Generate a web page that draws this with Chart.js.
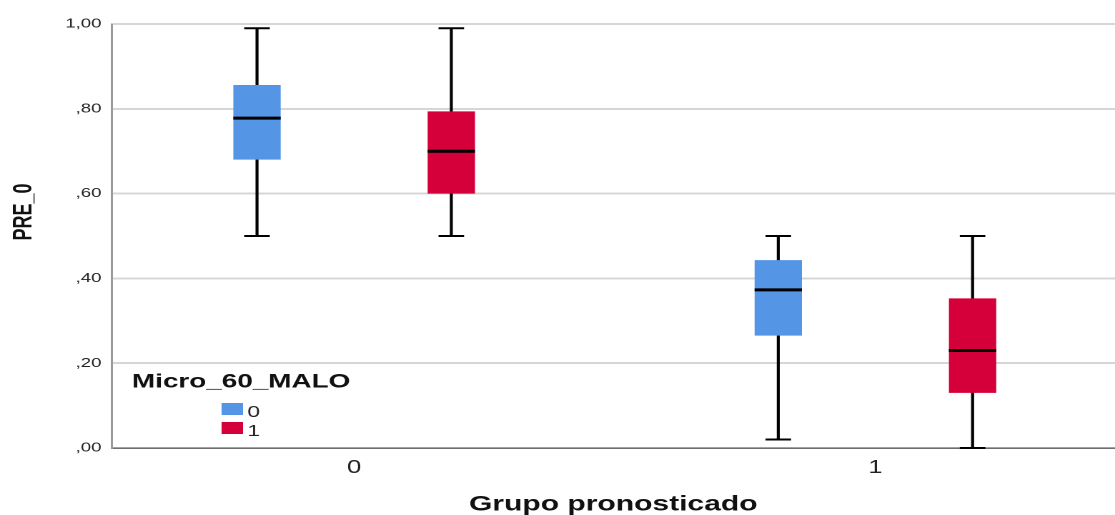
<!DOCTYPE html>
<html lang="es">
<head>
  <meta charset="UTF-8">
  <title>PRE_0 por Grupo pronosticado</title>
  <style>
    body { margin: 0; padding: 0; background: #fff; overflow: hidden; }
    /* SPSS export is stretched horizontally, so the chart is drawn narrow and widened */
    #wrap { width: 780px; height: 515px; transform: scaleX(1.42949); transform-origin: 0 0; }
  </style>
</head>
<body>
  <div id="wrap"><canvas id="boxChart" width="780" height="515"></canvas></div>

  <script src="https://cdn.jsdelivr.net/npm/chart.js"></script>
  <script>
    // categories on the x axis (Grupo pronosticado)
    const categories = ['0', '1'];
    const xValues = [0, 1];
    // legend groups (Micro_60_MALO)
    const groups = ['0', '1'];
    const groupColors = ['#5595e5', '#d5003a'];

    // box plot values, one array per statistic
    const minG0 = [0.50, 0.02];
    const q1G0 = [0.68, 0.265];
    const medG0 = [0.778, 0.373];
    const q3G0 = [0.856, 0.443];
    const maxG0 = [0.99, 0.50];

    const minG1 = [0.50, 0.00];
    const q1G1 = [0.60, 0.13];
    const medG1 = [0.70, 0.23];
    const q3G1 = [0.794, 0.353];
    const maxG1 = [0.99, 0.50];

    const yTickLabels = [',00', ',20', ',40', ',60', ',80', '1,00'];

    const stats = [
      { min: minG0, q1: q1G0, med: medG0, q3: q3G0, max: maxG0 },
      { min: minG1, q1: q1G1, med: medG1, q3: q3G1, max: maxG1 }
    ];

    const FONT = "'Liberation Sans', Arial, sans-serif";

    function boxData(s) {
      return xValues.map((x, i) => ({ x: x, y: [s.q1[i], s.q3[i]] }));
    }

    // whiskers behind the boxes, medians on top
    const boxPlotPlugin = {
      id: 'boxPlot',
      beforeDatasetsDraw(chart) {
        const ctx = chart.ctx;
        const y = chart.scales.y;
        ctx.save();
        ctx.strokeStyle = '#000';
        stats.forEach((s, d) => {
          const meta = chart.getDatasetMeta(d);
          meta.data.forEach((bar, i) => {
            const cap = bar.width * 0.27;
            const yMin = y.getPixelForValue(s.min[i]);
            const yMax = y.getPixelForValue(s.max[i]);
            ctx.lineWidth = 2.1;
            ctx.beginPath();
            ctx.moveTo(bar.x, yMax);
            ctx.lineTo(bar.x, yMin);
            ctx.stroke();
            ctx.lineWidth = 2;
            ctx.beginPath();
            ctx.moveTo(bar.x - cap, yMax);
            ctx.lineTo(bar.x + cap, yMax);
            ctx.moveTo(bar.x - cap, yMin);
            ctx.lineTo(bar.x + cap, yMin);
            ctx.stroke();
          });
        });
        ctx.restore();
      },
      afterDatasetsDraw(chart) {
        const ctx = chart.ctx;
        const y = chart.scales.y;
        ctx.save();
        ctx.strokeStyle = '#000';
        ctx.lineWidth = 3;
        stats.forEach((s, d) => {
          const meta = chart.getDatasetMeta(d);
          meta.data.forEach((bar, i) => {
            const ym = y.getPixelForValue(s.med[i]);
            ctx.beginPath();
            ctx.moveTo(bar.x - bar.width / 2, ym);
            ctx.lineTo(bar.x + bar.width / 2, ym);
            ctx.stroke();
          });
        });
        ctx.restore();
      },
      afterDraw(chart) {
        const ctx = chart.ctx;
        ctx.save();
        // y axis title
        ctx.translate(17, 212);
        ctx.rotate(-Math.PI / 2);
        ctx.fillStyle = '#111';
        ctx.font = 'bold 18px ' + FONT;
        ctx.textAlign = 'center';
        ctx.textBaseline = 'middle';
        ctx.fillText('PRE_0', 0, 0);
        ctx.restore();

        // legend
        ctx.save();
        ctx.fillStyle = '#111';
        ctx.font = 'bold 19.5px ' + FONT;
        ctx.textAlign = 'left';
        ctx.textBaseline = 'alphabetic';
        ctx.fillText('Micro_60_MALO', 92.3, 387.5);
        ctx.font = '16px ' + FONT;
        groups.forEach((g, i) => {
          const top = 403 + i * 19;
          ctx.fillStyle = groupColors[i];
          ctx.fillRect(155, top, 15, 12);
          ctx.fillStyle = '#222';
          ctx.fillText(g, 173, top + 14);
        });
        ctx.restore();
      }
    };

    new Chart(document.getElementById('boxChart'), {
      type: 'bar',
      data: {
        datasets: groups.map((g, d) => ({
          label: g,
          data: boxData(stats[d]),
          backgroundColor: groupColors[d],
          borderWidth: 0,
          categoryPercentage: 0.7455,
          barPercentage: 0.2437
        }))
      },
      options: {
        responsive: false,
        animation: false,
        devicePixelRatio: 2,
        layout: { padding: { top: 24, right: 0, bottom: 0, left: 0 } },
        plugins: {
          legend: { display: false },
          tooltip: { enabled: false }
        },
        scales: {
          x: {
            type: 'linear',
            min: -0.4655,
            max: 1.4596,
            offset: false,
            afterBuildTicks: (axis) => { axis.ticks = xValues.map(v => ({ value: v })); },
            afterFit: (axis) => { axis.height = 67; },
            grid: { display: false, drawTicks: false },
            border: { display: true, color: '#6e6e6e', width: 1.5 },
            ticks: {
              padding: 9,
              color: '#222',
              font: { family: FONT, size: 18 },
              maxRotation: 0,
              autoSkip: false,
              callback: (v) => categories[xValues.indexOf(v)] ?? ''
            },
            title: {
              display: true,
              text: 'Grupo pronosticado',
              color: '#111',
              font: { family: FONT, size: 21, weight: 'bold', lineHeight: 1 },
              padding: { top: 0, bottom: 0 }
            }
          },
          y: {
            min: 0,
            max: 1,
            afterFit: (axis) => { axis.width = 78; },
            grid: { color: '#d6d6d6', lineWidth: 2, drawTicks: false },
            border: { display: true, color: '#9a9a9a', width: 1.5 },
            ticks: {
              stepSize: 0.2,
              padding: 7,
              color: '#222',
              font: { family: FONT, size: 13 },
              callback: (v, i) => yTickLabels[i]
            }
          }
        }
      },
      plugins: [boxPlotPlugin]
    });
  </script>
</body>
</html>
